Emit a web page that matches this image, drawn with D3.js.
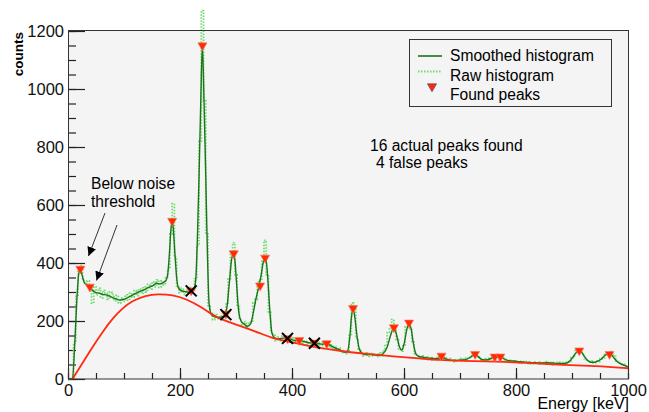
<!DOCTYPE html>
<html>
<head>
<meta charset="utf-8">
<script src="https://cdn.jsdelivr.net/npm/d3@7"></script>
<style>
  body { margin: 0; background: #fff; }
  svg { display: block; font-family: "Liberation Sans", Arial, Helvetica, sans-serif; }
</style>
</head>
<body>
<script>
// raw histogram, one value per 4 keV bin starting at 0 keV
var rawBinWidth = 4
var rawCounts = [
  0,0,5,125,285,370,392,340,328,338,
  322,262,318,290,312,280,305,296,275,300,
  292,270,288,262,280,268,290,272,296,282,
  305,288,310,296,318,300,326,310,334,318,
  342,316,338,325,352,380,500,605,420,320,
  298,312,292,305,296,315,302,345,460,820,
  1270,960,500,250,230,205,222,208,218,210,
  226,262,345,440,470,360,250,205,188,198,
  176,192,200,262,275,335,340,410,478,360,
  230,160,150,132,144,132,148,136,145,132,
  142,128,138,130,136,124,130,120,128,118,
  126,118,125,116,126,128,112,118,104,112,
  100,106,92,98,88,100,150,262,240,140,
  100,94,80,90,78,88,80,86,78,90,
  80,98,118,160,175,205,172,135,104,96,
  118,180,200,170,130,88,84,72,80,70,
  76,68,74,66,74,70,82,80,72,74,
  64,70,60,66,62,70,64,72,66,75,
  80,88,92,76,72,64,70,62,72,70,
  80,74,80,76,74,64,68,58,64,60,
  62,56,61,55,60,54,59,52,58,55,
  52,58,54,60,52,57,50,56,52,58,
  52,56,52,58,60,74,80,98,104,92,
  86,70,66,58,62,55,62,60,70,72,
  84,90,94,82,78,62,60,50,50,44,
  40
]

// smoothed histogram [energy, counts]
var smoothed = [
  [0,0],[8,0],[12,120],[16,280],[19,360],[22,378],[25,360],[29,332],[33,325],[39,320],
  [44,305],[50,298],[56,296],[62,292],[68,290],[74,286],[80,280],[86,276],[92,272],[98,274],
  [104,278],[110,284],[116,290],[122,296],[128,302],[134,306],[140,312],[146,318],[152,322],[158,330],
  [164,328],[170,332],[175,340],[178,360],[181,430],[184,520],[186,545],[188,520],[191,430],[194,350],
  [197,315],[202,305],[208,302],[214,300],[220,303],[225,310],[228,340],[231,480],[234,700],[237,950],
  [240,1150],[243,950],[246,700],[249,430],[252,260],[256,222],[262,214],[268,212],[274,213],[280,222],
  [284,250],[288,330],[292,410],[295,433],[298,410],[301,330],[305,230],[309,200],[314,190],[320,182],
  [326,190],[331,230],[336,280],[341,320],[345,360],[349,405],[352,418],[355,390],[358,310],[361,220],
  [364,160],[368,143],[374,138],[380,140],[386,141],[392,140],[400,136],[407,132],[413,134],[420,130],
  [428,126],[435,124],[440,123],[447,122],[455,120],[462,123],[470,114],[478,106],[486,100],[494,92],
  [499,95],[503,140],[506,210],[509,244],[512,215],[516,150],[520,105],[525,88],[532,84],[540,84],
  [548,83],[555,82],[563,88],[570,110],[576,150],[582,178],[587,150],[592,110],[596,100],[600,120],
  [605,170],[609,194],[613,170],[617,120],[621,88],[626,78],[635,75],[645,72],[655,70],[662,72],
  [667,80],[672,72],[680,66],[690,64],[700,65],[710,67],[718,74],[723,82],[727,86],[732,78],
  [738,68],[745,66],[752,68],[758,74],[762,77],[767,76],[772,77],[778,70],[785,64],[795,62],
  [805,60],[815,58],[825,57],[835,56],[845,55],[855,56],[865,55],[875,54],[885,54],[892,56],
  [898,66],[904,82],[909,94],[913,98],[917,92],[922,78],[928,64],[934,58],[940,58],[946,62],
  [952,68],[958,80],[963,86],[967,88],[971,82],[976,70],[982,58],[990,50],[996,45],[1000,42]
]

// estimated background (red)
var background = [
  [8,0],[26,55],[44,111],[62,163],[80,210],[98,245],[115,270],[139,288],[160,293],[187,290],
  [211,276],[236,250],[258,222],[271,207],[307,184],[343,158],[367,139],[400,126],[414,121],[450,106],
  [500,93],[539,86],[580,78],[629,71],[664,65],[700,63],[765,60],[830,55],[884,48],[944,45],[1000,37]
]

// found peaks [energy, counts]
var foundPeaks = [
  [22,380],[39,318],[186,545],[220,305],[240,1150],[282,225],[296,433],[343,322],[352,418],[392,140],
  [413,134],[440,125],[462,123],[509,244],[582,178],[609,194],[667,80],[727,86],[762,77],[772,77],
  [913,98],[967,86]
]
// false peaks (marked with X)
var falsePeaks = [[220,304],[282,222],[392,140],[440,123]]

var xTicks = [0,200,400,600,800,1000]
var yTicks = [0,200,400,600,800,1000,1200]
var legendLabels = ['Smoothed histogram', 'Raw histogram', 'Found peaks']

var W = 649, H = 412
var svg = d3.select('body').append('svg')
  .attr('width', W).attr('height', H)

var x = d3.scaleLinear().domain([0,1000]).range([68,628])
var y = d3.scaleLinear().domain([0,1200]).range([379,31])

// frame background
svg.append('rect')
  .attr('x', 68).attr('y', 30).attr('width', 561).attr('height', 349)
  .attr('fill', '#f4f4f4')

// minor + major ticks
var minor = d3.range(0, 1001, 50)
svg.append('g').attr('transform', 'translate(0,379)')
  .call(d3.axisBottom(x).tickValues(minor).tickSize(-6).tickFormat(''))
svg.append('g').attr('transform', 'translate(68,0)')
  .call(d3.axisLeft(y).tickValues(d3.range(0, 1201, 50)).tickSize(-8).tickFormat(''))

svg.append('g').attr('transform', 'translate(0,379)')
  .call(d3.axisBottom(x).tickValues(xTicks).tickSize(-11).tickPadding(5).tickFormat(d3.format('d')))
svg.append('g').attr('transform', 'translate(68,0)')
  .call(d3.axisLeft(y).tickValues(yTicks).tickSize(-17).tickPadding(4).tickFormat(d3.format('d')))

svg.selectAll('.domain').remove()
svg.selectAll('.tick line').attr('stroke', '#222').attr('stroke-width', 1.2)
svg.selectAll('.tick text').attr('font-size', '16.5px').attr('fill', '#111')
  .attr('font-family', '"Liberation Sans", Arial, sans-serif')

// raw histogram (dotted light green)
var rawPts = rawCounts.map(function(c, i){ return [i * rawBinWidth, c] })
svg.append('path')
  .datum(rawPts)
  .attr('d', d3.line().x(function(d){ return x(d[0]) }).y(function(d){ return y(d[1]) }).curve(d3.curveStep))
  .attr('fill', 'none')
  .attr('stroke', '#6ddc6d')
  .attr('stroke-width', 1.8)
  .attr('stroke-dasharray', '1.5,1.5')

// smoothed histogram
svg.append('path')
  .datum(smoothed)
  .attr('d', d3.line().x(function(d){ return x(d[0]) }).y(function(d){ return y(d[1]) }).curve(d3.curveMonotoneX))
  .attr('fill', 'none')
  .attr('stroke', '#1a741a')
  .attr('stroke-width', 1.4)

// background
svg.append('path')
  .datum(background)
  .attr('d', d3.line().x(function(d){ return x(d[0]) }).y(function(d){ return y(d[1]) }).curve(d3.curveBasis))
  .attr('fill', 'none')
  .attr('stroke', '#ff2a10')
  .attr('stroke-width', 1.8)

// found peaks
var tri = d3.symbol().type(d3.symbolTriangle).size(36)
svg.append('g').selectAll('path')
  .data(foundPeaks).enter().append('path')
  .attr('d', tri)
  .attr('transform', function(d){ return 'translate(' + x(d[0]) + ',' + y(d[1]) + ') rotate(180)' })
  .attr('fill', '#ff2a00')
  .attr('stroke', '#ff7060')
  .attr('stroke-width', 0.6)

// false peaks
svg.append('g').selectAll('path')
  .data(falsePeaks).enter().append('path')
  .attr('d', 'M-5.5,-5.5L5.5,5.5M-5.5,5.5L5.5,-5.5')
  .attr('transform', function(d){ return 'translate(' + x(d[0]) + ',' + y(d[1]) + ')' })
  .attr('stroke', '#000')
  .attr('stroke-width', 2)
  .attr('fill', 'none')

// frame
svg.append('rect')
  .attr('x', 68.5).attr('y', 30.5).attr('width', 560).attr('height', 348.5)
  .attr('fill', 'none').attr('stroke', '#333').attr('stroke-width', 1)

// axis titles
svg.append('text')
  .attr('transform', 'translate(22.5,32) rotate(-90)')
  .attr('text-anchor', 'end')
  .attr('font-size', '13.5px').attr('font-weight', 'bold')
  .text('counts')
svg.append('text')
  .attr('x', 629).attr('y', 408.5)
  .attr('text-anchor', 'end')
  .attr('font-size', '16px')
  .text('Energy [keV]')

// legend
var lg = svg.append('g')
lg.append('rect')
  .attr('x', 409.5).attr('y', 39.5).attr('width', 202).attr('height', 67)
  .attr('fill', '#f4f4f4').attr('stroke', '#333')
lg.append('line').attr('x1', 418).attr('x2', 442).attr('y1', 56).attr('y2', 56)
  .attr('stroke', '#1a741a').attr('stroke-width', 1.6)
lg.append('line').attr('x1', 418).attr('x2', 442).attr('y1', 71.5).attr('y2', 71.5)
  .attr('stroke', '#6ddc6d').attr('stroke-width', 1.8).attr('stroke-dasharray', '1.5,1.5')
lg.append('path').attr('d', tri)
  .attr('transform', 'translate(432,86.5) rotate(180)')
  .attr('fill', '#ff2a00').attr('stroke', '#6a4a8a').attr('stroke-width', 0.8)
lg.selectAll('text.lab').data(legendLabels).enter().append('text')
  .attr('x', 450).attr('y', function(d, i){ return 61 + i * 19.5 })
  .attr('font-size', '15.6px')
  .text(function(d){ return d })

// annotations
svg.append('text').attr('x', 370).attr('y', 151).attr('font-size', '15.6px').text('16 actual peaks found')
svg.append('text').attr('x', 376).attr('y', 168).attr('font-size', '15.6px').text('4 false peaks')
svg.append('text').attr('x', 91).attr('y', 189).attr('font-size', '15.6px').text('Below noise')
svg.append('text').attr('x', 91).attr('y', 207).attr('font-size', '15.6px').text('threshold')

svg.append('defs').append('marker')
  .attr('id', 'ah').attr('viewBox', '0 0 10 10').attr('refX', 10).attr('refY', 5)
  .attr('markerWidth', 9).attr('markerHeight', 9).attr('markerUnits', 'userSpaceOnUse')
  .attr('orient', 'auto')
  .append('path').attr('d', 'M0,0L10,5L0,10Z').attr('fill', '#000')
svg.append('line').attr('x1', 105).attr('y1', 213).attr('x2', 88.5).attr('y2', 256)
  .attr('stroke', '#333').attr('stroke-width', 1).attr('marker-end', 'url(#ah)')
svg.append('line').attr('x1', 117).attr('y1', 225).attr('x2', 96.5).attr('y2', 280.5)
  .attr('stroke', '#333').attr('stroke-width', 1).attr('marker-end', 'url(#ah)')
</script>
</body>
</html>
